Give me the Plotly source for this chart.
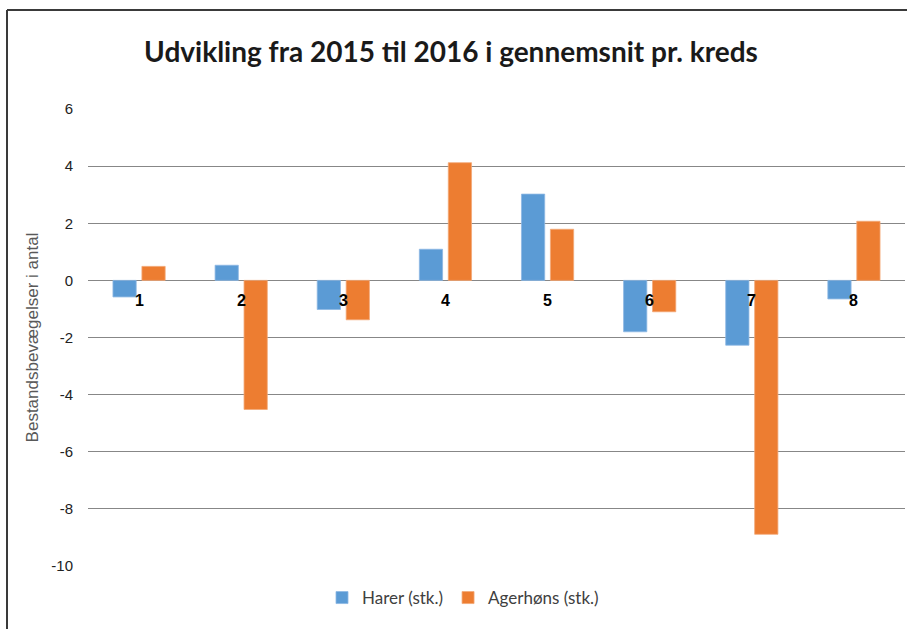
import plotly.graph_objects as go

categories = ["1", "2", "3", "4", "5", "6", "7", "8"]
harer = [-0.58, 0.53, -1.02, 1.09, 3.02, -1.8, -2.27, -0.65]
agerhons = [0.49, -4.52, -1.38, 4.12, 1.79, -1.1, -8.89, 2.07]
series_names = ["Harer (stk.)", "Agerhøns (stk.)"]
title_text = "Udvikling fra 2015 til 2016 i gennemsnit pr. kreds"
y_title = "Bestandsbevægelser i antal"
y_ticks = [6, 4, 2, 0, -2, -4, -6, -8, -10]

W, H = 907, 629
L, R, T, B = 88, 2, 109, 63
ph = H - T - B
pw = W - L - R

fig = go.Figure()
fig.add_trace(go.Bar(x=categories, y=harer, name=series_names[0],
                     marker=dict(color="#5B9BD5", line=dict(color="#8DB8E3", width=0.8))))
fig.add_trace(go.Bar(x=categories, y=agerhons, name=series_names[1],
                     marker=dict(color="#ED7D31", line=dict(color="#F3A877", width=0.8))))

for i, c in enumerate(categories):
    fig.add_annotation(x=i, y=0, xref="x", yref="y", text="<b>%s</b>" % c,
                       showarrow=False, yanchor="top", yshift=-10,
                       font=dict(family="Liberation Sans, Arial", size=16, color="#000000"))

def px_to_paper_x(px):
    return (px - L) / pw

def px_to_paper_y(py):
    return (H - B - py) / ph

fig.add_shape(type="line", xref="paper", yref="paper",
              x0=px_to_paper_x(7), x1=px_to_paper_x(W + 5),
              y0=px_to_paper_y(10), y1=px_to_paper_y(10),
              line=dict(color="#3a3a3a", width=2))
fig.add_shape(type="line", xref="paper", yref="paper",
              x0=px_to_paper_x(7), x1=px_to_paper_x(7),
              y0=px_to_paper_y(10), y1=px_to_paper_y(H + 5),
              line=dict(color="#3a3a3a", width=2))

fig.update_layout(
    width=W, height=H,
    margin=dict(l=L, r=R, t=T, b=B, autoexpand=False),
    paper_bgcolor="white", plot_bgcolor="white",
    barmode="group", bargap=0.433, bargroupgap=0.197,
    title=dict(text="<b>" + title_text + "</b>", x=451 / W, xref="container", xanchor="center",
               y=1 - 52 / H, yref="container", yanchor="middle",
               font=dict(family="Lato", size=28, color="#1a1a1a")),
    legend=dict(orientation="h", x=px_to_paper_x(463), xanchor="center",
                y=px_to_paper_y(598), yanchor="middle",
                font=dict(family="Lato", size=17, color="#404040"),
                itemwidth=30, tracegroupgap=0),
    showlegend=True,
)
fig.update_xaxes(type="category", showticklabels=False, showgrid=False, zeroline=False,
                 showline=False, ticks="")
fig.update_yaxes(range=[-10, 6], tickvals=y_ticks, ticktext=[str(v) for v in y_ticks],
                 showgrid=True, gridcolor="#878787", gridwidth=1.3,
                 zeroline=True, zerolinecolor="#878787", zerolinewidth=1.3,
                 showline=False, ticks="", ticklabelstandoff=14,
                 tickfont=dict(family="Liberation Sans, Arial", size=15, color="#222222"),
                 title=dict(text=y_title, standoff=8,
                            font=dict(family="Liberation Sans, Arial", size=17, color="#595959")))

fig.write_html("out.html", config={"displayModeBar": False},
               post_script="document.body.style.margin='0';")
